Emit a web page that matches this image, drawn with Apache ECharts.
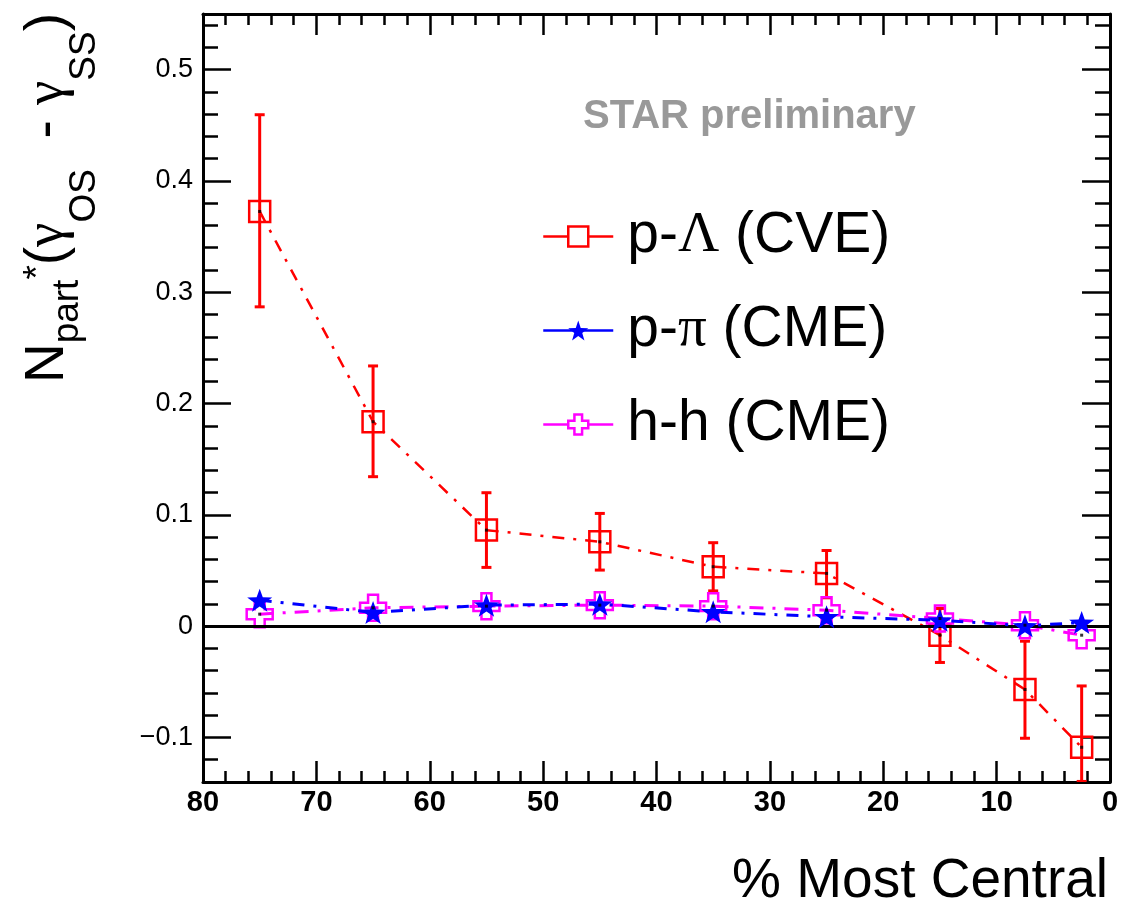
<!DOCTYPE html>
<html>
<head>
<meta charset="utf-8">
<script src="https://cdn.jsdelivr.net/npm/echarts@6/dist/echarts.min.js"></script>
<style>
html,body{margin:0;padding:0;background:#fff;}
#chart{width:1132px;height:904px;}
</style>
</head>
<body>
<div id="chart"></div>
<script>
// ---- data ----
const centrality = [75, 65, 55, 45, 35, 25, 15, 7.5, 2.5];
const pLambda      = [0.3726, 0.1837, 0.0863, 0.0758, 0.0534, 0.0474, -0.0081, -0.0569, -0.1088];
const pLambdaLow   = [0.2869, 0.1343, 0.0528, 0.0504, 0.0317, 0.0255, -0.0326, -0.1007, -0.1395];
const pLambdaHigh  = [0.4595, 0.2338, 0.1199, 0.1013, 0.0750, 0.0680, 0.0159, -0.0135, -0.0537];
const pPi          = [0.0234, 0.0123, 0.0189, 0.0198, 0.0129, 0.0084, 0.0054, 0.0003, 0.0033];
const hh           = [0.0108, 0.0165, 0.0180, 0.0189, 0.0180, 0.0144, 0.0069, 0.0009, -0.0081];
const seriesNames  = ['p-Λ (CVE)', 'p-π (CME)', 'h-h (CME)'];
const yMajorTicks  = [-0.1, 0, 0.1, 0.2, 0.3, 0.4, 0.5];
const yMinorTicks  = [-0.12, -0.1, -0.08, -0.06, -0.04, -0.02, 0, 0.02, 0.04, 0.06, 0.08, 0.1, 0.12, 0.14, 0.16, 0.18, 0.2,
                      0.22, 0.24, 0.26, 0.28, 0.3, 0.32, 0.34, 0.36, 0.38, 0.4, 0.42, 0.44, 0.46, 0.48, 0.5, 0.52, 0.54];
const xTickLabels  = [80, 70, 60, 50, 40, 30, 20, 10, 0];

// ---- build ----
const FONT = 'Liberation Sans';
const zip = (xs, ys) => xs.map((x, i) => [x, ys[i]]);
const errData = centrality.map((x, i) => [x, pLambdaLow[i], pLambdaHigh[i]]);

const STAR = 'path://M0,-10L2.35,-3.24L9.51,-3.09L3.8,1.24L5.88,8.09L0,4L-5.88,8.09L-3.8,1.24L-9.51,-3.09L-2.35,-3.24Z';
const CROSS = 'path://M-1.15,-3L1.15,-3L1.15,-1.15L3,-1.15L3,1.15L1.15,1.15L1.15,3L-1.15,3L-1.15,1.15L-3,1.15L-3,-1.15L-1.15,-1.15Z';

function xAxisDef(pos, showLabel) {
  return {
    type: 'value', position: pos, min: 0, max: 80, interval: 10, inverse: true,
    axisLine: { show: true, onZero: false, lineStyle: { color: '#000', width: 3 } },
    axisTick: { show: true, inside: true, length: 21, lineStyle: { color: '#000', width: 2.5 } },
    minorTick: { show: true, splitNumber: 5, length: 11, lineStyle: { color: '#000', width: 2.5 } },
    splitLine: { show: false },
    axisLabel: {
      show: showLabel, margin: 6, color: '#000', fontFamily: FONT, fontWeight: 'bold', fontSize: 29,
      formatter: v => (xTickLabels.indexOf(v) >= 0 ? String(v) : '')
    }
  };
}
function yAxisDef(pos, major) {
  return {
    type: 'value', position: pos, min: -0.14, max: 0.55,
    axisLine: { show: major, onZero: false, lineStyle: { color: '#000', width: 3 } },
    axisTick: { show: true, inside: true, length: major ? 28 : 15,
      customValues: major ? yMajorTicks : yMinorTicks,
      lineStyle: { color: '#000', width: 2.5 } },
    splitLine: { show: false },
    axisLabel: {
      show: major && pos === 'left', customValues: yMajorTicks, margin: 10, color: '#000',
      fontFamily: FONT, fontSize: 27,
      formatter: v => {
        const r = Math.round(v * 10) / 10;
        if (r === 0) return '0';
        return r < 0 ? '\u2212' + Math.abs(r) : String(r);
      }
    }
  };
}

const option = {
  animation: false,
  backgroundColor: '#fff',
  grid: { left: 203, right: 22, top: 14, bottom: 122, containLabel: false },
  xAxis: [xAxisDef('bottom', true), xAxisDef('top', false)],
  yAxis: [yAxisDef('left', true), yAxisDef('left', false), yAxisDef('right', true), yAxisDef('right', false)],
  legend: {
    orient: 'vertical', left: 542, top: 208, padding: 0, itemWidth: 70, itemHeight: 25, itemGap: 37,
    selectedMode: false,
    data: [
      { name: seriesNames[0], itemStyle: { color: '#fff', borderColor: '#ff0000', borderWidth: 2.5 } },
      { name: seriesNames[1] },
      { name: seriesNames[2], itemStyle: { color: '#fff', borderColor: '#ff00ff', borderWidth: 2.5 } }
    ],
    lineStyle: { type: 'solid', width: 2.5 },
    formatter: n => n.replace('Λ', '{s|Λ}').replace('π', '{s|π}'),
    textStyle: {
      fontFamily: FONT, fontSize: 57, lineHeight: 55, color: '#000', padding: [0, 0, 0, 9],
      rich: { s: { fontFamily: 'Liberation Serif', fontSize: 57, lineHeight: 55, color: '#000' } }
    }
  },
  graphic: [
    {
      type: 'text', x: 583, y: 117, silent: true,
      style: { text: 'STAR preliminary', fill: '#999999', font: 'bold 40px "Liberation Sans"',
        align: 'left', verticalAlign: 'middle', textAlign: 'left', textVerticalAlign: 'middle' }
    },
    {
      type: 'text', x: 1108, y: 882, silent: true,
      style: { text: '% Most Central', fill: '#000', font: '55px "Liberation Sans"',
        align: 'right', verticalAlign: 'middle', textAlign: 'right', textVerticalAlign: 'middle' }
    },
    {
      type: 'text', x: 20, y: 13, rotation: Math.PI / 2, silent: true,
      style: {
        text: '{m|N}{s1|part}{sp|*}{m|(}{g|γ}{s2|OS}{m|  - }{g|γ}{s2|SS}{m|)}',
        fill: '#000', align: 'right', verticalAlign: 'top', textAlign: 'right', textVerticalAlign: 'top',
        rich: {
          m:  { fontFamily: FONT, fontSize: 55, lineHeight: 55, verticalAlign: 'top', fill: '#000' },
          g:  { fontFamily: 'Liberation Serif', fontSize: 55, lineHeight: 55, verticalAlign: 'top', fill: '#000' },
          s1: { fontFamily: FONT, fontSize: 37, lineHeight: 37, padding: [29, 0, 0, 0], verticalAlign: 'top', fill: '#000' },
          s2: { fontFamily: FONT, fontSize: 37, lineHeight: 37, padding: [46, 0, 0, 0], verticalAlign: 'top', fill: '#000' },
          sp: { fontFamily: FONT, fontSize: 37, lineHeight: 37, padding: [0, 0, 0, 0], verticalAlign: 'top', fill: '#000' }
        }
      }
    }
  ],
  series: [
    {
      name: 'errors', type: 'custom', xAxisIndex: 0, yAxisIndex: 0, silent: true, z: 2,
      data: errData,
      renderItem: (params, api) => {
        const x = api.value(0);
        const lo = api.coord([x, api.value(1)]);
        const hi = api.coord([x, api.value(2)]);
        const c = 5;
        const st = { stroke: '#ff0000', lineWidth: 3 };
        return {
          type: 'group',
          children: [
            { type: 'line', shape: { x1: lo[0], y1: lo[1], x2: hi[0], y2: hi[1] }, style: st },
            { type: 'line', shape: { x1: lo[0] - c, y1: lo[1], x2: lo[0] + c, y2: lo[1] }, style: st },
            { type: 'line', shape: { x1: hi[0] - c, y1: hi[1], x2: hi[0] + c, y2: hi[1] }, style: st }
          ]
        };
      },
      clip: true
    },
    {
      name: seriesNames[0], type: 'line', data: zip(centrality, pLambda), z: 3,
      symbol: 'rect', symbolSize: 21, showAllSymbol: true,
      itemStyle: { color: 'rgba(255,255,255,0)', borderColor: '#ff0000', borderWidth: 2.5 },
      lineStyle: { color: '#ff0000', width: 2.5, type: [12, 9, 3, 9] },
      markLine: {
        silent: true, symbol: 'none', label: { show: false },
        lineStyle: { color: '#000', width: 3, type: 'solid' },
        data: [{ yAxis: 0 }]
      }
    },
    {
      name: seriesNames[2], type: 'line', data: zip(centrality, hh), z: 4,
      symbol: CROSS, symbolSize: 26, showAllSymbol: true,
      itemStyle: { color: 'rgba(255,255,255,0)', borderColor: '#ff00ff', borderWidth: 2.5 },
      lineStyle: { color: '#ff00ff', width: 3, type: [14, 9, 3, 9] }
    },
    {
      name: seriesNames[1], type: 'line', data: zip(centrality, pPi), z: 5,
      symbol: STAR, symbolSize: [25, 23], showAllSymbol: true,
      itemStyle: { color: '#0000ff', borderColor: '#0000ff', borderWidth: 0 },
      lineStyle: { color: '#0000ff', width: 3, type: [12, 9, 3, 9] }
    },
    {
      name: 'centres', type: 'scatter', silent: true, z: 6,
      data: zip(centrality, pLambda).concat(zip(centrality, hh)),
      symbol: 'rect', symbolSize: 3, itemStyle: { color: '#000' }
    }
  ]
};

const chart = echarts.init(document.getElementById('chart'), null, { renderer: 'canvas' });
chart.setOption(option);
</script>
</body>
</html>
